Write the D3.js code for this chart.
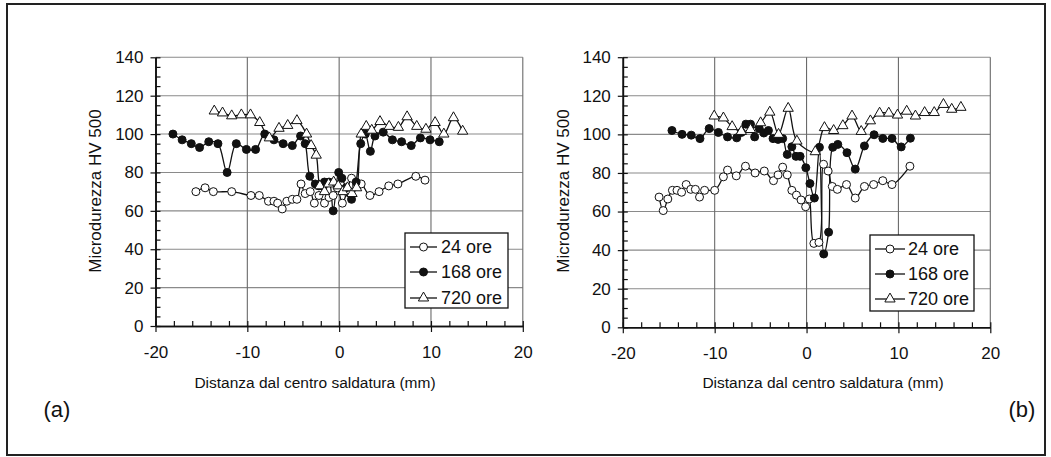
<!DOCTYPE html>
<html>
<head>
<meta charset="utf-8">
<script src="https://cdn.jsdelivr.net/npm/d3@7"></script>
<style>
  html, body { margin: 0; padding: 0; background: #fff; }
  svg { display: block; font-family: "Liberation Sans", Arial, sans-serif; }
</style>
</head>
<body>
<script>
// values: [distance mm, HV 500]
const ore24a = [[-15.6,70],[-14.6,72],[-13.7,70],[-11.7,70],[-9.6,68],[-8.7,68],[-7.7,65],[-7.1,65],[-6.7,64],[-6.2,61],[-5.7,65],[-5.1,66],[-4.6,66],[-4.15,74],[-3.7,69],[-3.15,70],[-2.7,64],[-2.2,68],[-1.6,64],[-1.1,67],[-0.65,68],[-0.2,72],[0.35,64],[0.85,70],[1.35,77],[1.9,73],[2.4,74],[3.35,68],[4.35,70],[5.4,73],[6.4,74],[8.35,78],[9.35,76]];
const ore168a = [[-18.1,100],[-17.1,97],[-16.1,95],[-15.2,93],[-14.2,96],[-13.2,95],[-12.2,80],[-11.2,95],[-10.1,92],[-9.1,92],[-8.1,100],[-7.1,97],[-6.1,95],[-5.1,94],[-4.2,99],[-3.7,95],[-3.2,78],[-2.6,74],[-2.2,73],[-1.6,75],[-1.1,75],[-0.65,60],[-0.05,80],[0.3,77],[0.75,72],[1.35,66],[1.85,75],[2.35,95],[2.85,100],[3.4,91],[3.9,99],[4.8,101],[5.8,97],[6.8,96],[7.85,94],[8.85,98],[9.9,97],[10.9,96]];
const ore720a = [[-13.6,112],[-12.7,111],[-11.7,109.5],[-10.65,110],[-9.65,110],[-8.65,106],[-7.6,98],[-6.55,103],[-5.6,104.5],[-4.6,107],[-3.55,100],[-3.05,94],[-2.5,89],[-2.1,73],[-1.6,70],[-1.15,74],[-0.6,75],[-0.1,73],[0.4,70],[0.9,72],[1.4,69],[1.9,72],[2.4,100],[2.95,104],[3.55,102],[4.45,106.5],[5.45,104],[6.45,103.5],[7.4,109],[8.45,104],[9.45,102.5],[10.45,106],[11.4,100],[12.45,108.5],[13.45,101.5]];

const ore24b = [[-16.05,67.5],[-15.6,60.5],[-15.1,66.5],[-14.6,71],[-14.1,71],[-13.6,70],[-13.1,74],[-12.6,71.5],[-12.1,71.5],[-11.65,67.5],[-11.1,71],[-10.0,71],[-9.05,78],[-8.6,81.5],[-7.65,78.5],[-6.65,83.5],[-5.6,80],[-4.6,81],[-3.6,76],[-3.1,79],[-2.6,83],[-2.1,79],[-1.6,71],[-1.1,68.5],[-0.6,66],[-0.1,62.5],[0.3,66.5],[0.8,43.5],[1.35,44],[1.85,84.5],[2.35,81],[2.8,73],[3.35,71.5],[4.35,74],[5.3,67],[6.3,73],[7.3,74],[8.3,76],[9.3,74],[11.25,83.5]];
const ore168b = [[-14.65,102],[-13.55,100],[-12.55,99.6],[-11.6,97.8],[-10.6,103],[-9.6,101],[-8.6,98.7],[-7.6,98.2],[-7.1,101],[-6.6,105.3],[-6.1,105.3],[-5.65,98.7],[-5.15,103],[-4.65,100.7],[-4.15,102],[-3.65,97.8],[-3.1,97.4],[-2.6,97.8],[-2.1,89.6],[-1.6,93.6],[-1.15,88.6],[-0.7,88.6],[-0.08,82.7],[0.37,74.5],[0.85,67],[1.4,93.3],[1.87,38],[2.4,49.3],[2.85,93.3],[3.4,94.8],[4.4,90.5],[5.3,82],[6.3,94],[7.35,99.8],[8.3,97.9],[9.3,97.9],[10.3,93.5],[11.3,98]];
const ore720b = [[-10.05,109.5],[-9.05,108.5],[-8.1,104],[-7.1,101.5],[-6.1,102.5],[-5.0,106],[-4.0,111.5],[-3.05,100],[-2.0,113.5],[-1.05,96.5],[0.95,91],[1.95,103.5],[2.95,102],[3.95,104.5],[4.95,109.5],[5.95,101.5],[6.95,107],[7.95,111],[8.95,111],[9.9,110],[10.9,112],[11.85,109.5],[12.85,111.3],[13.9,111.3],[14.9,115.5],[15.8,113],[16.8,114]];

const seriesNames = ["24 ore", "168 ore", "720 ore"];
const markerKinds = ["open", "filled", "triangle"];
const xTicks = [-20, -10, 0, 10, 20];
const yTicks = [0, 20, 40, 60, 80, 100, 120, 140];
const panelLabels = ["(a)", "(b)"];
const xTitle = "Distanza dal centro saldatura (mm)";
const yTitle = "Microdurezza HV 500";

const W = 1051, H = 457;
const svg = d3.select("body").append("svg").attr("width", W).attr("height", H);

svg.append("rect").attr("width", W).attr("height", H).attr("fill", "#fff");
svg.append("rect")
    .attr("x", 7).attr("y", 4).attr("width", 1038).attr("height", 451)
    .attr("fill", "none").attr("stroke", "#222").attr("stroke-width", 2);

const panels = [
    {xr: [155.5, 522.8], yr: [326, 57.3], data: [ore24a, ore168a, ore720a],
     legend: {x: 405, y: 233, w: 103, h: 75, rows: [247, 272, 298], l1: 410, l2: 437, tx: 441},
     label: {x: 57, y: 417}, titleX: 315, yTitleX: 95},
    {xr: [622.8, 990.3], yr: [327.3, 57.2], data: [ore24b, ore168b, ore720b],
     legend: {x: 870, y: 235, w: 104, h: 76, rows: [249, 274, 299], l1: 875, l2: 905, tx: 908},
     label: {x: 1022, y: 417}, titleX: 823, yTitleX: 563}
];

const drawMarker = (sel, kind) => {
    if (kind === "triangle") {
        sel.append("path")
            .attr("d", d3.symbol(d3.symbolTriangle, 46)())
            .attr("fill", "#fff").attr("stroke", "#111").attr("stroke-width", 1);
    } else {
        sel.append("circle").attr("r", 4)
            .attr("fill", kind === "filled" ? "#111" : "#fff")
            .attr("stroke", "#111").attr("stroke-width", 1);
    }
};

panels.forEach((p, pi) => {
    const x = d3.scaleLinear().domain([-20, 20]).range(p.xr);
    const y = d3.scaleLinear().domain([0, 140]).range(p.yr);
    const g = svg.append("g");

    // grid
    g.selectAll("line.hgrid").data(yTicks.slice(1)).enter().append("line")
        .attr("class", "hgrid")
        .attr("x1", p.xr[0]).attr("x2", p.xr[1])
        .attr("y1", d => y(d)).attr("y2", d => y(d))
        .attr("stroke", "#8a8a8a").attr("stroke-width", 1.1);
    g.selectAll("line.vgrid").data(xTicks.slice(1)).enter().append("line")
        .attr("class", "vgrid")
        .attr("x1", d => x(d)).attr("x2", d => x(d))
        .attr("y1", p.yr[0]).attr("y2", p.yr[1])
        .attr("stroke", "#6a6a6a").attr("stroke-width", 1.1);

    // axes: labels + outer ticks, then minor inner ticks
    g.append("g").attr("transform", `translate(${p.xr[0]},0)`)
        .call(d3.axisLeft(y).tickValues(yTicks).tickFormat(d => String(d))
            .tickSizeInner(5).tickSizeOuter(0).tickPadding(7));
    g.append("g").attr("transform", `translate(${p.xr[0]},0)`)
        .call(d3.axisRight(y).tickValues(d3.range(0, 141, 5)).tickSize(5).tickSizeOuter(0).tickFormat(""));
    g.append("g").attr("transform", `translate(0,${p.yr[0]})`)
        .call(d3.axisBottom(x).tickValues(xTicks).tickFormat(d => String(d))
            .tickSizeInner(6).tickSizeOuter(0).tickPadding(14));
    g.append("g").attr("transform", `translate(0,${p.yr[0]})`)
        .call(d3.axisTop(x).tickValues(d3.range(-20, 21, 2)).tickSize(5).tickSizeOuter(0).tickFormat(""));

    g.selectAll(".domain").attr("stroke", "#111").attr("stroke-width", 1.6);
    g.selectAll(".tick line").attr("stroke", "#111").attr("stroke-width", 1.2);
    g.selectAll(".tick text").attr("fill", "#111").style("font-size", "17px")
        .style("font-family", "'Liberation Sans', Arial, sans-serif");

    // titles
    g.append("text").attr("x", p.titleX).attr("y", 388)
        .attr("text-anchor", "middle").style("font-size", "15.5px").attr("fill", "#111")
        .text(xTitle);
    g.append("text")
        .attr("transform", `translate(${p.yTitleX},${191}) rotate(-90)`)
        .attr("text-anchor", "middle").attr("dominant-baseline", "central")
        .style("font-size", "17px").attr("fill", "#111")
        .text(yTitle);
    g.append("text").attr("x", p.label.x).attr("y", p.label.y)
        .attr("text-anchor", "middle").style("font-size", "22px").attr("fill", "#111")
        .text(panelLabels[pi]);

    // series
    const line = d3.line().x(d => x(d[0])).y(d => y(d[1]))
        .curve(d3.curveCatmullRom.alpha(0.5));
    p.data.forEach(s => {
        g.append("path").datum(s).attr("d", line)
            .attr("fill", "none").attr("stroke", "#111").attr("stroke-width", 1.3);
    });
    p.data.forEach((s, si) => {
        g.selectAll(null).data(s).enter().append("g")
            .attr("transform", d => `translate(${x(d[0])},${y(d[1])})`)
            .each(function () { drawMarker(d3.select(this), markerKinds[si]); });
    });

    // legend
    const L = p.legend;
    g.append("rect").attr("x", L.x).attr("y", L.y).attr("width", L.w).attr("height", L.h)
        .attr("fill", "#fff").attr("stroke", "#111").attr("stroke-width", 1.3);
    seriesNames.forEach((name, si) => {
        const ry = L.rows[si];
        g.append("line").attr("x1", L.l1).attr("x2", L.l2).attr("y1", ry).attr("y2", ry)
            .attr("stroke", "#111").attr("stroke-width", 1.3);
        const m = g.append("g").attr("transform", `translate(${(L.l1 + L.l2) / 2},${ry})`);
        drawMarker(m, markerKinds[si]);
        g.append("text").attr("x", L.tx).attr("y", ry).attr("dominant-baseline", "central")
            .style("font-size", "18px").attr("fill", "#111").text(name);
    });
});
</script>
</body>
</html>
